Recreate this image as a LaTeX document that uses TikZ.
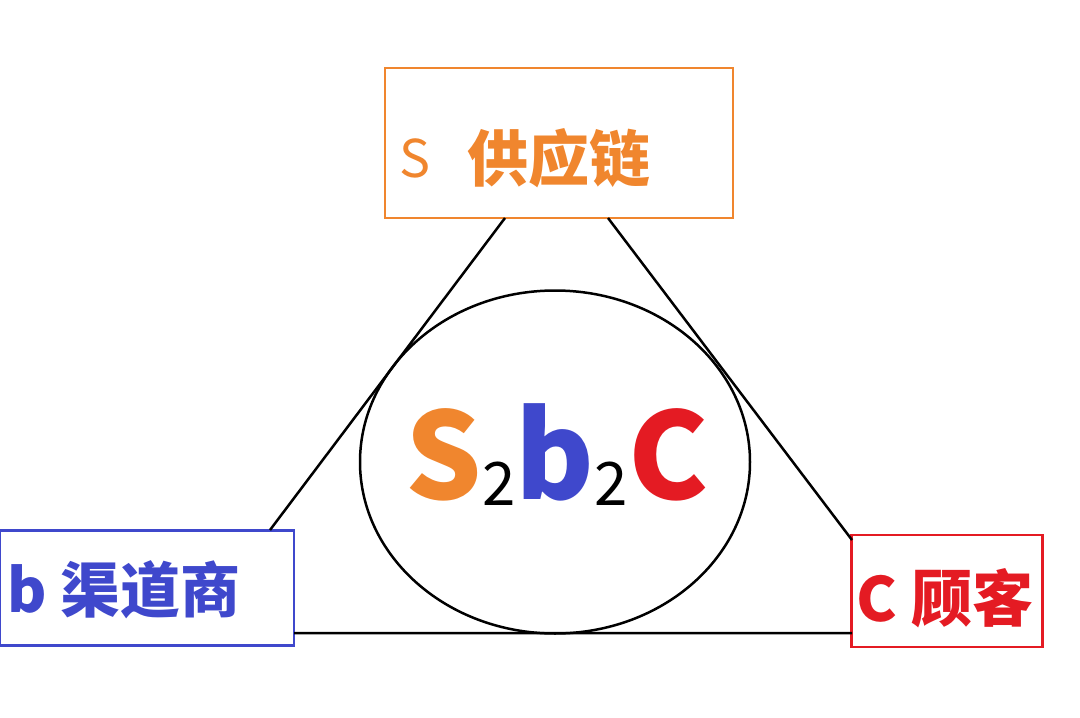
\documentclass[tikz,border=0pt]{standalone}
\usepackage{fontspec}
\usetikzlibrary{shapes.geometric}
\setmainfont{Noto Sans CJK SC}
\definecolor{sor}{HTML}{F0862E}
\definecolor{bbl}{HTML}{3F48CC}
\definecolor{cre}{HTML}{E41B23}
\tikzset{box/.style={draw,line width=2.5pt,inner sep=0pt}}
\begin{document}
\begin{tikzpicture}[x=1pt,y=-1pt]
\useasboundingbox (0,0) rectangle (1080,718);
\node[box,draw=sor,minimum width=348pt,minimum height=150pt] (s) at (559,143) {};
\node[box,draw=bbl,minimum width=294pt,minimum height=115pt] (b) at (147,588) {};
\node[box,draw=cre,minimum width=191pt,minimum height=112pt] (c) at (947,591) {};
\node[draw,line width=2.5pt,ellipse,minimum width=390pt,minimum height=343pt,inner sep=0pt] (e) at (555,462) {};
\coordinate (s1) at (505,218); \coordinate (s2) at (608,218);
\coordinate (b1) at (270,530); \coordinate (b2) at (294,633);
\coordinate (c1) at (852,540); \coordinate (c2) at (852,633);
\draw[line width=2.5pt] (s1)--(b1) (s2)--(c1) (b2)--(c2);
\node[anchor=west,text=sor,font=\fontsize{52}{56}\selectfont] at (396,158) {S};
\node[anchor=west,text=sor,font=\bfseries\fontsize{61}{66}\selectfont] at (464,158) {供应链};
\node[anchor=west,text=bbl,font=\bfseries\fontsize{60}{66}\selectfont] at (4,590) {b 渠道商};
\node[anchor=west,text=cre,font=\bfseries\fontsize{61}{66}\selectfont] at (853,598) {C 顾客};
\node[font=\bfseries\fontsize{120}{130}\selectfont,inner sep=0pt] at (557,455) {\textcolor{sor}{S}{\mdseries\fontsize{60}{60}\selectfont\raisebox{-6pt}{2}}\textcolor{bbl}{b}{\mdseries\fontsize{60}{60}\selectfont\raisebox{-6pt}{2}}\textcolor{cre}{C}};
\end{tikzpicture}
\end{document}
